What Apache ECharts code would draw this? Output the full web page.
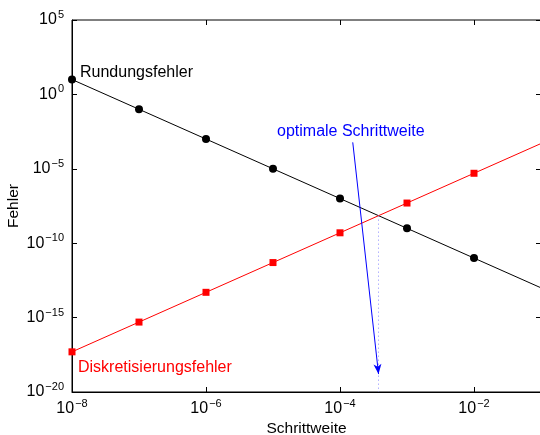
<!DOCTYPE html>
<html>
<head>
<meta charset="utf-8">
<script src="https://cdn.jsdelivr.net/npm/echarts@6/dist/echarts.min.js"></script>
<style>
  html, body { margin: 0; padding: 0; background: #fff; }
  #chart { width: 540px; height: 435px; }
</style>
</head>
<body>
<div id="chart"></div>
<script>
// step sizes h (x) and error values
const steps = [1e-8, 1e-7, 1e-6, 1e-5, 1e-4, 1e-3, 1e-2, 1e-1]
const roundingErr = [10, 1e-1, 1e-3, 1e-5, 1e-7, 1e-9, 1e-11, 1e-13]
const discretErr = [5e-18, 5e-16, 5e-14, 5e-12, 5e-10, 5e-8, 5e-6, 5e-4]
// optimal step: crossing point and arrow from the caption
const hOpt = 3.76e-4
const errOpt = 7.1e-9
const arrowFrom = [1.55e-4, 6e-4]
const arrowTo = [3.76e-4, 1.6e-19]

const FONT = '"Liberation Sans", Arial, sans-serif'

function pow10(v) {
  const e = Math.round(Math.log10(v))
  return '{b|10}{s|' + String(e).replace('-', '\u2212') + '}'
}
const powRich = {
  b: { fontSize: 16, fontFamily: FONT, color: '#000' },
  s: { fontSize: 11, fontFamily: FONT, color: '#000', padding: [0, 0, 10, 1] },
}

// last point has no marker, only the line continues
function toData(ys) {
  return steps.map((h, i) => i === steps.length - 1
    ? { value: [h, ys[i]], symbolSize: 0 }
    : [h, ys[i]])
}

const chart = echarts.init(document.getElementById('chart'))
chart.setOption({
  animation: false,
  backgroundColor: '#fff',
  grid: {
    left: 72, top: 20, width: 469, height: 372,
    containLabel: false, outerBoundsMode: 'none',
    show: true, borderColor: '#000', borderWidth: 1,
  },
  xAxis: [{
    type: 'log', logBase: 10, min: 1e-8, max: 1e-1, interval: 2,
    name: 'Schrittweite', nameLocation: 'middle', nameGap: 29, nameMoveOverlap: false,
    nameTextStyle: { fontSize: 15.5, fontFamily: FONT, color: '#000' },
    axisLine: { lineStyle: { color: '#000', width: 1 } },
    axisTick: { inside: true, length: 5, lineStyle: { color: '#000' } },
    minorTick: { show: false },
    splitLine: { show: false },
    axisLabel: { formatter: pow10, rich: powRich, margin: 6, showMaxLabel: false },
  }, {
    type: 'log', logBase: 10, min: 1e-8, max: 1e-1, interval: 2, position: 'top',
    axisLine: { show: false },
    axisTick: { inside: true, length: 5, lineStyle: { color: '#000' } },
    axisLabel: { show: false }, splitLine: { show: false },
  }],
  yAxis: [{
    type: 'log', logBase: 10, min: 1e-20, max: 1e5, interval: 5,
    name: 'Fehler', nameLocation: 'middle', nameGap: 50, nameRotate: 90, nameMoveOverlap: false,
    nameTextStyle: { fontSize: 15.5, fontFamily: FONT, color: '#000' },
    axisLine: { lineStyle: { color: '#000', width: 1 } },
    axisTick: { inside: true, length: 5, lineStyle: { color: '#000' } },
    splitLine: { show: false },
    axisLabel: { formatter: pow10, rich: powRich, margin: 8 },
  }, {
    type: 'log', logBase: 10, min: 1e-20, max: 1e5, interval: 5, position: 'right',
    axisLine: { show: false },
    axisTick: { inside: true, length: 5, lineStyle: { color: '#000' } },
    axisLabel: { show: false }, splitLine: { show: false },
  }],
  series: [{
    name: 'Rundungsfehler',
    type: 'line',
    data: toData(roundingErr),
    symbol: 'circle', symbolSize: 8,
    lineStyle: { color: '#000', width: 1 },
    itemStyle: { color: '#000' },
    z: 3,
  }, {
    name: 'Diskretisierungsfehler',
    type: 'line',
    data: toData(discretErr),
    symbol: 'rect', symbolSize: 7,
    lineStyle: { color: '#ff0000', width: 1 },
    itemStyle: { color: '#ff0000' },
    z: 3,
    markLine: {
      silent: true, animation: false,
      label: { show: false },
      data: [
        [{ coord: [hOpt, errOpt], symbol: 'none' },
         { coord: [hOpt, 1e-20], symbol: 'none' }],
      ],
      lineStyle: { color: '#8c8cff', type: [1, 3], width: 1 },
    },
  }, {
    name: 'arrow',
    type: 'line',
    data: [],
    markLine: {
      silent: true, animation: false,
      label: { show: false },
      data: [
        [{ coord: arrowFrom, symbol: 'none' },
         { coord: arrowTo, symbol: 'arrow', symbolSize: [6, 10] }],
      ],
      lineStyle: { color: '#0000ff', type: 'solid', width: 1 },
    },
  }],
  graphic: [
    { type: 'text', left: 80, top: 65,
      style: { text: 'Rundungsfehler', fill: '#000', font: '16px ' + FONT } },
    { type: 'text', left: 78, top: 360,
      style: { text: 'Diskretisierungsfehler', fill: '#ff0000', font: '16px ' + FONT } },
    { type: 'text', left: 277, top: 124,
      style: { text: 'optimale Schrittweite', fill: '#0000ff', font: '16px ' + FONT } },
  ],
})
</script>
</body>
</html>
